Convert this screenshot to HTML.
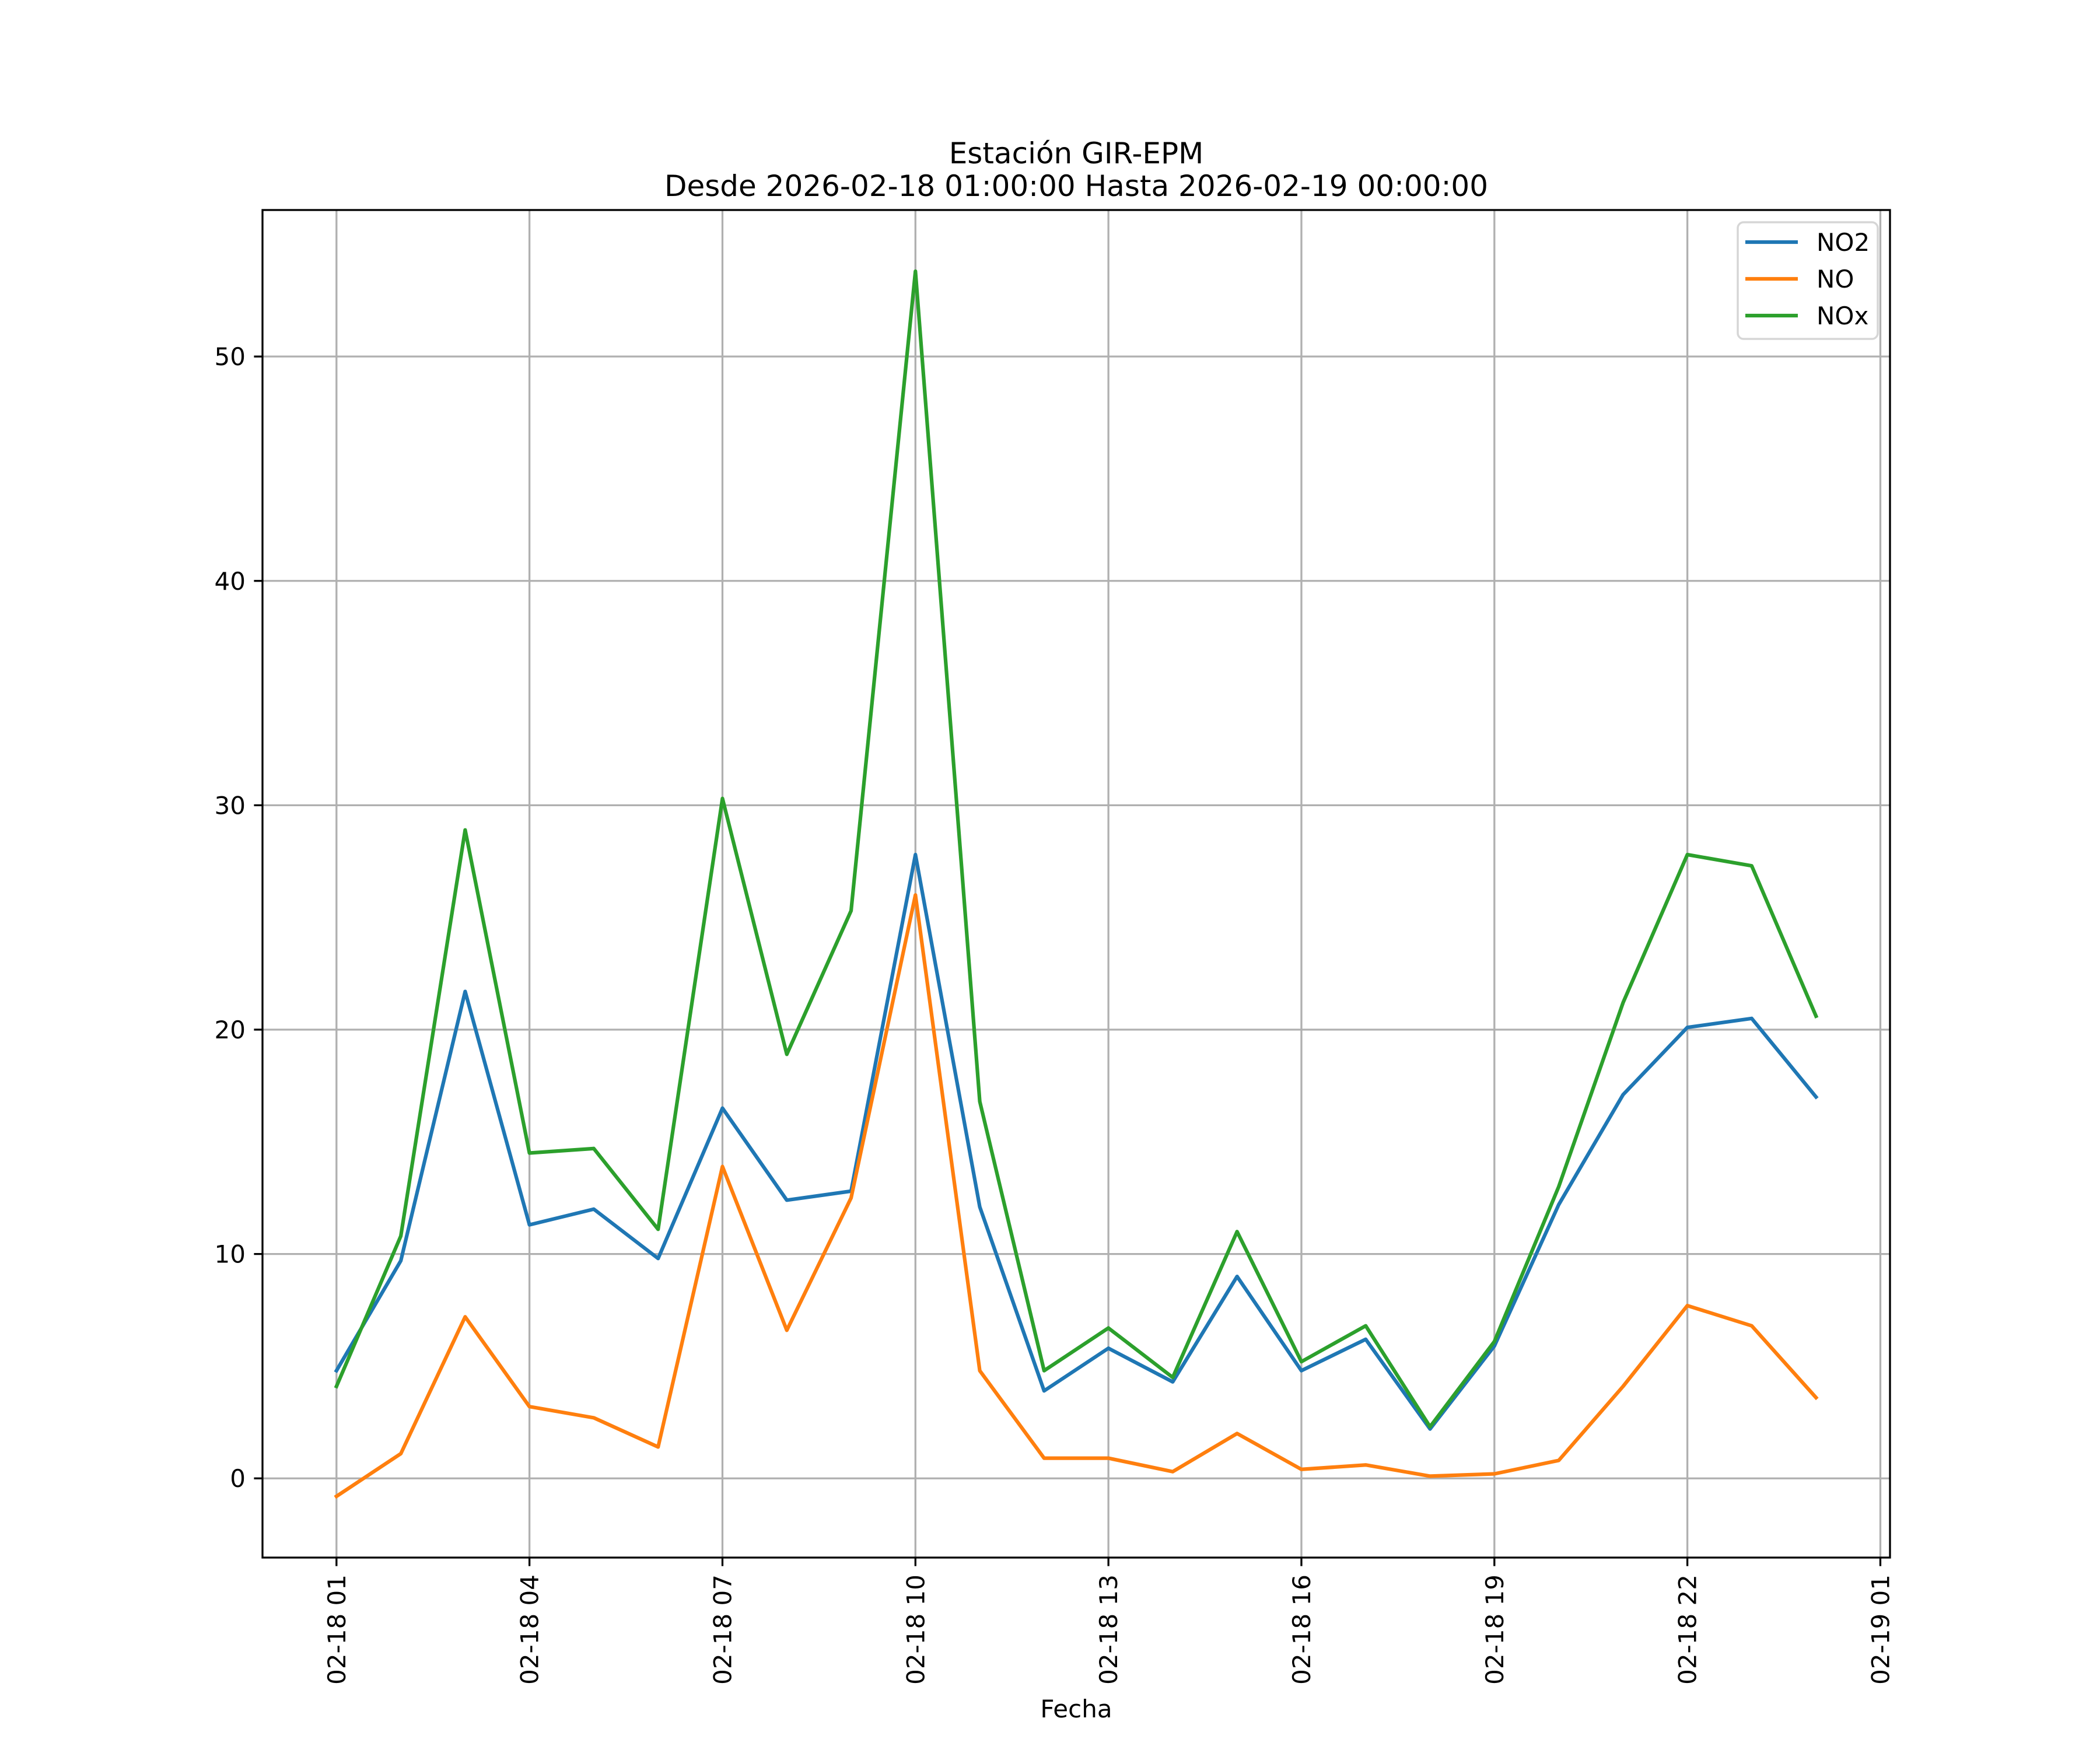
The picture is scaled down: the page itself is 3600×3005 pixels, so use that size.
<!DOCTYPE html>
<html><head><meta charset="utf-8"><style>
html,body{margin:0;padding:0;background:#fff;}
svg text{font-family:"DejaVu Sans","Liberation Sans",sans-serif;fill:#000;}
</style></head><body>
<svg id="chart" width="3600" height="3000" viewBox="0 0 3600 3000" xmlns="http://www.w3.org/2000/svg">
<rect width="3600" height="3000" fill="#fff"/>
<g id="grid"></g>
<g id="series"></g>
<g id="axes"></g>
<text x="1845" y="280" font-size="50" text-anchor="middle">Estación GIR-EPM</text>
<text x="1845" y="336" font-size="50" text-anchor="middle">Desde 2026-02-18 01:00:00 Hasta 2026-02-19 00:00:00</text>
<text x="1845" y="2944" font-size="42" text-anchor="middle">Fecha</text>
<g id="legend">
<rect x="2979" y="381" width="240" height="200" rx="10" fill="#fff" fill-opacity="0.8" stroke="#d6d6d6" stroke-width="3.5"/>
</g>
</svg>
<script>
const hours = [0,1,2,3,4,5,6,7,8,9,10,11,12,13,14,15,16,17,18,19,20,21,22,23];
const no2 = [4.8,9.7,21.7,11.3,12.0,9.8,16.5,12.4,12.8,27.8,12.1,3.9,5.8,4.3,9.0,4.8,6.2,2.2,5.9,12.2,17.1,20.1,20.5,17.0];
const no = [-0.8,1.1,7.2,3.2,2.7,1.4,13.9,6.6,12.5,26.0,4.8,0.9,0.9,0.3,2.0,0.4,0.6,0.1,0.2,0.8,4.1,7.7,6.8,3.6];
const nox = [4.1,10.8,28.9,14.5,14.7,11.1,30.3,18.9,25.3,53.8,16.8,4.8,6.7,4.5,11.0,5.2,6.8,2.3,6.1,13.0,21.2,27.8,27.3,20.6];
const seriesNames = ["NO2","NO","NOx"];
const xTickValues = [0,3,6,9,12,15,18,21,24];
const xTickLabels = ["02-18 01","02-18 04","02-18 07","02-18 10","02-18 13","02-18 16","02-18 19","02-18 22","02-19 01"];
const yTickValues = [0,10,20,30,40,50];

const NS="http://www.w3.org/2000/svg";
const L=450,R=3240,T=360,B=2670;
const all=no2.concat(no,nox);
const dmin=Math.min(...all), dmax=Math.max(...all);
const ypad=(dmax-dmin)*0.05;
const y0=dmin-ypad, y1=dmax+ypad;
const xmin=hours[0], xmax=hours[hours.length-1];
const xpad=(xmax-xmin)*0.05;
const x0=xmin-xpad, x1=xmax+xpad;
const X=v=>L+(v-x0)/(x1-x0)*(R-L);
const Y=v=>B-(v-y0)/(y1-y0)*(B-T);
function mk(tag,attrs,parent){const e=document.createElementNS(NS,tag);for(const k in attrs)e.setAttribute(k,attrs[k]);parent.appendChild(e);return e;}
const grid=document.getElementById('grid'),axes=document.getElementById('axes'),ser=document.getElementById('series');
xTickValues.forEach((v,i)=>{
  const x=X(v);
  const g=mk('line',{x1:x,x2:x,y1:T,y2:B,stroke:'#b0b0b0','stroke-width':3.3},grid);
  
  
  const t=mk('line',{x1:x,x2:x,y1:B,y2:B+14.6,stroke:'#000','stroke-width':3.3},axes);
  
  
  const tx=mk('text',{transform:`translate(${x+15},${B+29}) rotate(-90)`,'font-size':42,'text-anchor':'end'},axes);
  tx.textContent=xTickLabels[i];
  
  
});
yTickValues.forEach(v=>{
  const y=Y(v);
  const g=mk('line',{x1:L,x2:R,y1:y,y2:y,stroke:'#b0b0b0','stroke-width':3.3},grid);
  
  
  const t=mk('line',{x1:L-14.6,x2:L,y1:y,y2:y,stroke:'#000','stroke-width':3.3},axes);
  
  
  const tx=mk('text',{x:L-29,y:y+15,'font-size':42,'text-anchor':'end'},axes);
  tx.textContent=String(v);
  
  
});
const frame=mk('rect',{x:L,y:T,width:R-L,height:B-T,fill:'none',stroke:'#000','stroke-width':3.3},axes);


const colors=['#1f77b4','#ff7f0e','#2ca02c'];
[no2,no,nox].forEach((arr,si)=>{
  const d=arr.map((v,i)=>(i?'L':'M')+X(hours[i]).toFixed(1)+','+Y(v).toFixed(1)).join(' ');
  const p=mk('path',{d:d,fill:'none',stroke:colors[si],'stroke-width':6.25,'stroke-linejoin':'round','stroke-linecap':'square'},ser);
  
  
});
const leg=document.getElementById('legend');
seriesNames.forEach((n,i)=>{
  const y=415+i*63;
  const l=mk('line',{x1:2992,x2:3082,y1:y,y2:y,stroke:colors[i],'stroke-width':6.25},leg);
  
  
  const t=mk('text',{x:3114,y:y+15,'font-size':42},leg);
  t.textContent=n;
  
  
});
</script>
</body></html>
